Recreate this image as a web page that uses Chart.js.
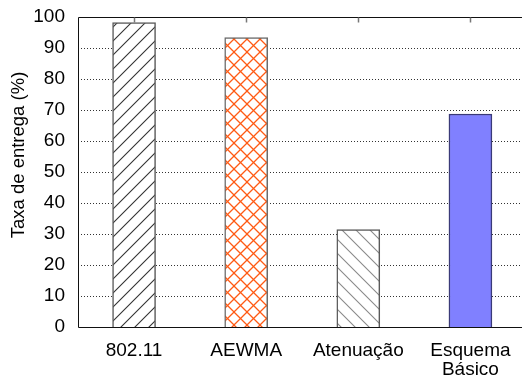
<!DOCTYPE html>
<html>
<head>
<meta charset="utf-8">
<script src="https://cdn.jsdelivr.net/npm/chart.js@4.4.1/dist/chart.umd.min.js"></script>
<style>
  html, body { margin: 0; padding: 0; background: #fff; overflow: hidden; }
  #wrap { width: 522px; height: 379px; position: relative; }
</style>
</head>
<body>
<div id="wrap"><canvas id="chart"></canvas></div>
<script>
// Delivery rate per scheme
const categories = ['802.11', 'AEWMA', 'Atenuação', ['Esquema', 'Básico']];
const deliveryRate = [98.2, 93.4, 31.4, 68.7];
const yTickValues = [0, 10, 20, 30, 40, 50, 60, 70, 80, 90, 100];
const yTitle = 'Taxa de entrega (%)';

const FONT = '"Liberation Sans", Arial, Helvetica, sans-serif';
const ctx = document.getElementById('chart').getContext('2d');

// Pattern tiles for the hatched bars
function makePattern(size, draw) {
  const c = document.createElement('canvas');
  c.width = size; c.height = size;
  const g = c.getContext('2d');
  g.fillStyle = '#fff';
  g.fillRect(0, 0, size, size);
  draw(g, size);
  return ctx.createPattern(c, 'repeat');
}
function forward(g, s) { // "/" lines
  g.beginPath();
  g.moveTo(-1, s + 1); g.lineTo(s + 1, -1);
  g.moveTo(-1, 1); g.lineTo(1, -1);
  g.moveTo(s - 1, s + 1); g.lineTo(s + 1, s - 1);
  g.stroke();
}
function backward(g, s) { // "\" lines
  g.beginPath();
  g.moveTo(-1, -1); g.lineTo(s + 1, s + 1);
  g.moveTo(s - 1, -1); g.lineTo(s + 1, 1);
  g.moveTo(-1, s - 1); g.lineTo(1, s + 1);
  g.stroke();
}
const hatchFwd = makePattern(14, (g, s) => { g.strokeStyle = '#333'; g.lineWidth = 1.1; forward(g, s); });
const hatchCross = makePattern(13, (g, s) => { g.strokeStyle = '#ff5a14'; g.lineWidth = 1.3; forward(g, s); backward(g, s); });
const hatchBack = makePattern(14, (g, s) => { g.strokeStyle = '#8a8a8a'; g.lineWidth = 1.1; backward(g, s); });

const fills = [hatchFwd, hatchCross, hatchBack, '#8080ff'];
const borders = ['#5a5a5a', '#6a6a6a', '#5a5a5a', '#3a3a78'];

// Dotted grid under the bars; frame, top tick marks and axis title over them
const framePlugin = {
  id: 'frame',
  beforeDatasetsDraw(chart) {
    const { ctx: c, chartArea: a, scales } = chart;
    c.save();
    c.strokeStyle = '#333';
    c.lineWidth = 1;
    c.setLineDash([1, 2]);
    yTickValues.forEach(v => {
      if (v <= 0 || v >= 100) return;
      const y = Math.round(scales.y.getPixelForValue(v)) + 0.5;
      c.beginPath();
      c.moveTo(a.left, y); c.lineTo(chart.width, y);
      c.stroke();
    });
    c.restore();
  },
  afterDatasetsDraw(chart) {
    const { ctx: c, chartArea: a, scales } = chart;
    c.save();
    c.strokeStyle = '#111';
    c.lineWidth = 1;
    const top = Math.round(a.top) + 0.5;
    const bot = Math.round(a.bottom) + 0.5;
    const left = Math.round(a.left) + 0.5;
    c.beginPath();
    c.moveTo(chart.width, top); c.lineTo(left, top); c.lineTo(left, bot); c.lineTo(chart.width, bot);
    c.stroke();
    c.strokeStyle = '#777';
    c.lineWidth = 1.5;
    categories.forEach((_, i) => {
      const x = Math.round(scales.x.getPixelForValue(i)) + 0.5;
      c.beginPath();
      c.moveTo(x, top); c.lineTo(x, top + 5);
      c.stroke();
    });
    c.fillStyle = '#000';
    c.font = '18.5px ' + FONT;
    c.textAlign = 'center';
    c.textBaseline = 'middle';
    c.translate(19, 155);
    c.rotate(-Math.PI / 2);
    c.fillText(yTitle, 0, 0);
    c.restore();
  }
};

new Chart(ctx, {
  type: 'bar',
  data: {
    datasets: [{
      data: categories.map((_, i) => ({ x: i, y: deliveryRate[i] })),
      backgroundColor: fills,
      borderColor: borders,
      borderWidth: 1.5,
      barThickness: 43
    }]
  },
  options: {
    responsive: true,
    maintainAspectRatio: false,
    animation: false,
    devicePixelRatio: 1,
    layout: { padding: { top: 17, left: 0, right: 0, bottom: 0 } },
    plugins: { legend: { display: false }, tooltip: { enabled: false } },
    scales: {
      x: {
        type: 'linear',
        offset: false,
        min: -0.5,
        max: 3.46,
        grid: { display: false },
        border: { display: false },
        afterBuildTicks: s => { s.ticks = categories.map((_, i) => ({ value: i })); },
        afterFit: s => { s.height = 52; s.paddingLeft = 0; s.paddingRight = 0; },
        ticks: {
          autoSkip: false,
          maxRotation: 0,
          padding: 6,
          color: '#000',
          font: { family: FONT, size: 19, lineHeight: 1.0 },
          callback: (v, i) => categories[i]
        }
      },
      y: {
        min: 0,
        max: 100,
        afterBuildTicks: s => { s.ticks = yTickValues.map(v => ({ value: v })); },
        afterFit: s => { s.width = 78; s.paddingTop = 0; s.paddingBottom = 0; },
        grid: { display: false, drawTicks: false },
        border: { display: false },
        ticks: {
          padding: 13,
          color: '#000',
          font: { family: FONT, size: 19 }
        }
      }
    }
  },
  plugins: [framePlugin]
});
</script>
</body>
</html>
